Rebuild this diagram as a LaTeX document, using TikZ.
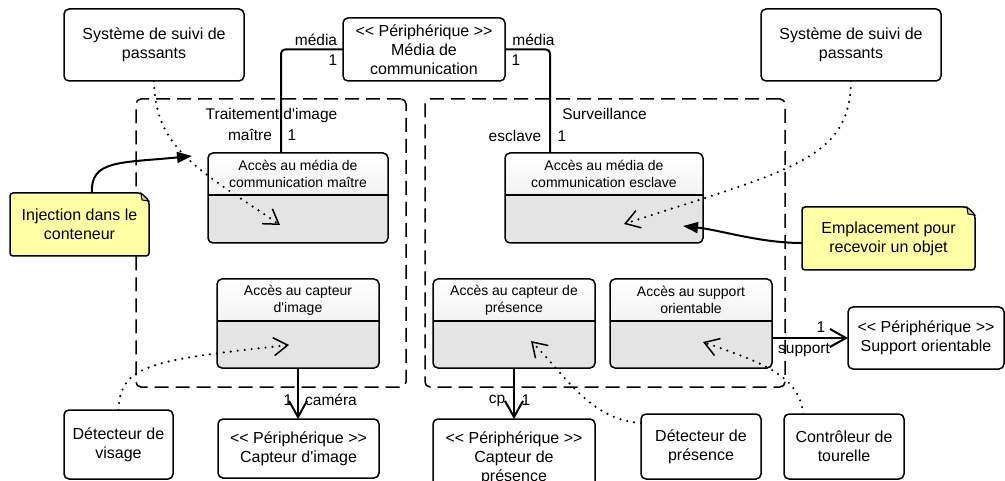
\documentclass[tikz,border=0pt]{standalone}
\usepackage{fontspec}
\setmainfont{Liberation Sans}[Ligatures=TeXOff]
\usetikzlibrary{arrows.meta,fit,calc}
\definecolor{notey}{HTML}{FFFFA6}
\definecolor{notefold}{HTML}{D4D48C}
\definecolor{compg}{HTML}{E4E4E4}
\newcommand\compbox[7]{%
  \node[fit={(#2,#3) (#4,#5)}, inner sep=0pt, fill=compg, rounded corners=5pt] (#1) {};
  \begin{scope}
    \clip[rounded corners=5pt] (#2,#3) rectangle (#4,#5);
    \shade[top color=white, bottom color=black!5] (#2,#3) rectangle (#4,#6);
  \end{scope}
  \draw[line width=1.5pt] (#2,#6) -- (#4,#6);
  \draw[line width=1.5pt, rounded corners=5pt] (#1.north west) rectangle (#1.south east);
  \node[smalltxt] (#1-t) at ($(#2,#3)!0.5!(#4,#6)$) {#7};
}
\newcommand\notebox[6]{%
  \draw[line width=1.5pt, fill=notey, rounded corners=3pt] (#2,#3) -- ($(#4,#3)+(-8,0)$) -- ($(#4,#3)+(0,8)$) -- (#4,#5) -- (#2,#5) -- cycle;
  \filldraw[line width=1pt, fill=notefold] ($(#4,#3)+(-8,0)$) -- ($(#4,#3)+(-7,7)$) -- ($(#4,#3)+(0,8)$) -- cycle;
  \node[fit={(#2,#3) (#4,#5)}, inner sep=0pt] (#1) {};
  \node[bigtxt] (#1-t) at (#1.center) {#6};
}
\begin{document}
\begin{tikzpicture}[x=1pt,y=-1pt,
  every node/.style={inner sep=1pt, outer sep=0pt},
  bigtxt/.style={font=\fontsize{16}{19}\selectfont, align=center},
  smalltxt/.style={font=\fontsize{14}{17}\selectfont, align=center},
  lbl/.style={font=\fontsize{15.5}{18}\selectfont, anchor=base, inner sep=0pt},
  box/.style={draw, line width=1.5pt, rounded corners=5pt, fill=white, bigtxt},
  pkg/.style={draw, line width=1.5pt, rounded corners=5pt, dash pattern=on 14pt off 7pt, inner sep=0pt},
  dep/.style={line width=2.4pt, dash pattern=on 0pt off 7pt, line cap=round, -{Straight Barb[length=14pt,width=18pt,line width=1.5pt]}},
  assoc/.style={line width=2pt, -{Straight Barb[length=16pt,width=18pt,line width=2pt]}},
  link/.style={line width=2pt, rounded corners=4pt},
  notearrow/.style={line width=2pt, -{Triangle[length=15pt,width=11pt]}},
]
\useasboundingbox (0,0) rectangle (1005,481);
\fill[white] (0,0) rectangle (1005,481);

% packages
\node[pkg, fit={(136,99) (406,387)}] (pkgL) {};
\node[pkg, fit={(425,99) (785,387)}] (pkgR) {};
\node[lbl] (pkgLt) at (271.5,120) {Traitement d'image};
\node[lbl] (pkgRt) at (604.5,120) {Surveillance};

% plain boxes
\node[box, minimum width=180pt, minimum height=72pt] (sysL) at (154,45) {Système de suivi de\\passants};
\node[box, minimum width=162pt, minimum height=63pt] (media) at (424,49.5) {<< Périphérique >>\\Média de\\communication};
\node[box, minimum width=180pt, minimum height=72pt] (sysR) at (851,45) {Système de suivi de\\passants};
\node[box, minimum width=109pt, minimum height=69pt] (visage) at (118.5,444.5) {Détecteur de\\visage};
\node[box, minimum width=161pt, minimum height=59pt] (perCI) at (298.5,448.5) {<< Périphérique >>\\Capteur d'image};
\node[box, minimum width=162pt, minimum height=78pt] (perCP) at (514,458) {<< Périphérique >>\\Capteur de\\présence};
\node[box, minimum width=120pt, minimum height=65pt] (detP) at (701,446.5) {Détecteur de\\présence};
\node[box, minimum width=120pt, minimum height=65pt] (ctrl) at (844,446.5) {Contrôleur de\\tourelle};
\node[box, minimum width=156pt, minimum height=62pt] (perSO) at (926,338) {<< Périphérique >>\\Support orientable};

% compartment boxes
\compbox{mMaitre}{208}{153}{388}{243}{195}{Accès au média de\\communication maître}
\compbox{mEsclave}{505}{153}{703}{243}{195}{Accès au média de\\communication esclave}
\compbox{capImg}{217}{279}{379}{368}{321}{Accès au capteur\\d'image}
\compbox{capP}{433}{279}{595}{368}{321}{Accès au capteur de\\présence}
\compbox{supO}{610}{279}{772}{368}{321}{Accès au support\\orientable}

% notes
\notebox{injN}{10}{193}{149}{256}{Injection dans le\\conteneur}
\notebox{empN}{802}{207}{975}{270}{Emplacement pour\\recevoir un objet}

% associations
\coordinate (mMtop) at (281,153);
\coordinate (mEtop) at (550,153);
\draw[link] (media.west) -| (mMtop);
\draw[link] (media.east) -| (mEtop);
\draw[assoc] (capImg.south) -- (capImg.south |- perCI.north);
\draw[assoc] (capP.south) -- (capP.south |- perCP.north);
\draw[assoc] (perSO.west -| supO.east) -- (perSO.west);

% association labels
\node[lbl] (l1) at (316,46) {média};
\node[lbl] (l2) at (333,66) {1};
\node[lbl] (l3) at (533.5,46) {média};
\node[lbl] (l4) at (516,66) {1};
\node[lbl] (l5) at (250,141) {maître};
\node[lbl] (l6) at (292,141) {1};
\node[lbl] (l7) at (515,142) {esclave};
\node[lbl] (l8) at (562,142) {1};
\node[lbl] (l9) at (288,405) {1};
\node[lbl] (l10) at (331,405) {caméra};
\node[lbl] (l11) at (497,403) {cp};
\node[lbl] (l12) at (526,405) {1};
\node[lbl] (l13) at (821,333) {1};
\node[lbl] (l14) at (804,354) {support};

% dependencies
\coordinate (t1) at (280,225);
\coordinate (t2) at (624,224);
\coordinate (t3) at (289,345);
\coordinate (t4) at (531,341);
\coordinate (t5) at (703,342);
\draw[dep] (sysL.south) .. controls (155,150) and (200,170) .. (t1);
\draw[dep] (sysR.south) .. controls (850,160) and (790,170) .. (t2);
\draw[dep] (visage.north) .. controls (120,365) and (150,360) .. (t3);
\draw[dep] ([yshift=-9pt]detP.north west) .. controls (590,420) and (565,375) .. (t4);
\draw[dep] ([xshift=19pt]ctrl.north west) .. controls (800,375) and (760,362) .. (t5);

% note arrows
\coordinate (t6) at (192,156);
\coordinate (t7) at (683,226);
\draw[notearrow] ([xshift=82pt]injN.north west) .. controls (90,160) and (120,163) .. (t6);
\draw[notearrow] ([yshift=-36pt]empN.north west) .. controls (760,243) and (720,230) .. (t7);
\end{tikzpicture}
\end{document}
